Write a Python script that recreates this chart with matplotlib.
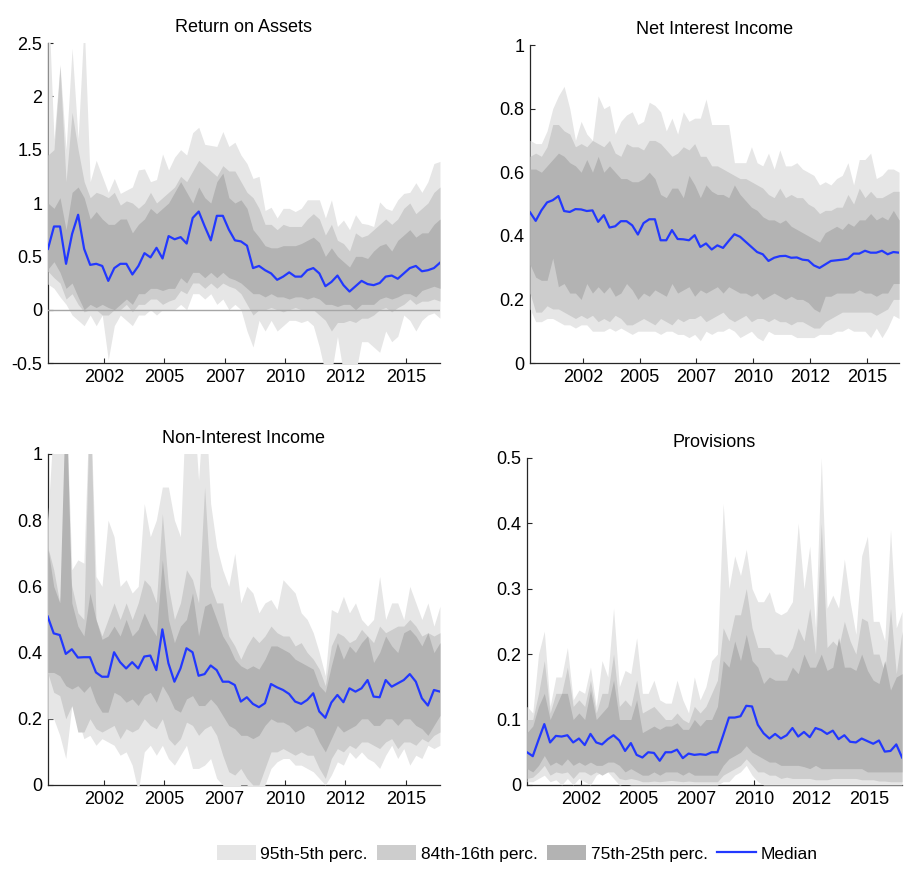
import numpy as np
import matplotlib
matplotlib.use("Agg")
import matplotlib.pyplot as plt
from matplotlib.patches import Patch
from matplotlib.lines import Line2D

plt.rcParams['font.family'] = ['Liberation Sans', 'DejaVu Sans']

# ---------------- data ----------------
first_year = 2000          # 2000Q1 ... 2016Q2, quarterly
n_quarters = 66
x_tick_values = [2002.5, 2005.0, 2007.5, 2010.0, 2012.5, 2015.0]
x_tick_labels = ["2002", "2005", "2007", "2010", "2012", "2015"]

titles = ["Return on Assets", "Net Interest Income", "Non-Interest Income", "Provisions"]
legend_labels = ["95th-5th perc.", "84th-16th perc.", "75th-25th perc.", "Median"]

# Return on Assets
roa_p95 = [3.0, 1.6, 2.3, 1.5, 2.45, 1.6, 2.7, 1.2, 1.4, 1.25,
           1.1, 1.23, 1.09, 1.12, 1.15, 1.31, 1.32, 1.2, 1.22, 1.46,
           1.31, 1.43, 1.5, 1.45, 1.66, 1.71, 1.55, 1.54, 1.53, 1.67,
           1.53, 1.57, 1.45, 1.37, 1.23, 1.25, 0.93, 0.96, 0.86, 0.95,
           0.95, 0.92, 0.95, 1.03, 1.03, 1.03, 0.86, 1.03, 0.78, 0.84,
           0.75, 0.89, 0.81, 0.8, 0.78, 1.01, 0.95, 0.93, 1.03, 1.09,
           1.1, 1.19, 1.1, 1.2, 1.37, 1.39]
roa_p84 = [1.45, 1.5, 2.28, 1.2, 1.85, 1.5, 1.2, 1.05, 1.1, 1.08,
           1.05, 1.1, 0.98, 1.02, 1.0, 0.95, 1.0, 1.1, 1.0, 1.05,
           1.1, 1.15, 1.25, 1.2, 1.3, 1.4, 1.35, 1.3, 1.25, 1.35,
           1.3, 1.3, 1.2, 1.1, 1.05, 0.95, 0.8, 0.8, 0.75, 0.8,
           0.78, 0.78, 0.78, 0.85, 0.9, 0.85, 0.7, 0.8, 0.65, 0.62,
           0.55, 0.72, 0.68, 0.7, 0.75, 0.8, 0.85, 0.8, 0.85, 0.95,
           1.0, 0.9, 0.95, 1.0, 1.1, 1.15]
roa_p75 = [1.0, 0.95, 1.05, 0.75, 1.1, 1.15, 1.05, 0.85, 0.92, 0.85,
           0.8, 0.8, 0.85, 0.85, 0.72, 0.8, 0.85, 0.95, 0.9, 0.95,
           1.0, 1.1, 1.2, 1.1, 1.0, 1.15, 1.05, 1.0, 1.2, 1.28,
           1.05, 1.0, 1.03, 0.95, 0.75, 0.68, 0.6, 0.58, 0.58, 0.6,
           0.6, 0.6, 0.62, 0.65, 0.68, 0.63, 0.5, 0.58, 0.5, 0.45,
           0.4, 0.5, 0.5, 0.48, 0.55, 0.6, 0.62, 0.55, 0.65, 0.7,
           0.75, 0.68, 0.72, 0.72, 0.8, 0.85]
roa_med = [0.57, 0.78, 0.78, 0.43, 0.71, 0.89, 0.57, 0.42, 0.43, 0.41,
           0.27, 0.39, 0.43, 0.43, 0.33, 0.41, 0.53, 0.49, 0.58, 0.48,
           0.69, 0.66, 0.68, 0.62, 0.86, 0.92, 0.78, 0.65, 0.88, 0.88,
           0.75, 0.65, 0.64, 0.60, 0.39, 0.41, 0.37, 0.34, 0.28, 0.31,
           0.35, 0.31, 0.31, 0.37, 0.39, 0.34, 0.22, 0.26, 0.32, 0.23,
           0.17, 0.22, 0.27, 0.24, 0.23, 0.25, 0.31, 0.32, 0.29, 0.34,
           0.39, 0.41, 0.36, 0.37, 0.39, 0.44]
roa_p25 = [0.38, 0.45, 0.35, 0.2, 0.25, 0.12, 0.0, 0.05, 0.02, 0.05,
           0.02, 0.0, 0.05, 0.1, 0.05, 0.15, 0.15, 0.2, 0.2, 0.18,
           0.2, 0.2, 0.3, 0.25, 0.35, 0.35, 0.3, 0.35, 0.3, 0.35,
           0.3, 0.28, 0.25, 0.2, 0.15, 0.15, 0.12, 0.15, 0.12, 0.12,
           0.1, 0.12, 0.12, 0.1, 0.12, 0.1, 0.05, 0.05, 0.03, 0.05,
           0.05, 0.0, 0.05, 0.05, 0.05, 0.1, 0.12, 0.1, 0.12, 0.15,
           0.15, 0.12, 0.18, 0.2, 0.22, 0.2]
roa_p16 = [0.36, 0.3, 0.25, 0.1, 0.15, 0.05, -0.02, 0.0, 0.0, -0.05,
           -0.05, 0.0, 0.0, 0.05, -0.02, 0.05, 0.05, 0.1, 0.1, 0.05,
           0.08, 0.1, 0.18, 0.15, 0.25, 0.25, 0.2, 0.25, 0.2, 0.25,
           0.22, 0.2, 0.15, 0.05, -0.05, 0.0, 0.0, 0.02, 0.0, -0.02,
           0.0, 0.02, 0.0, 0.0, 0.0, -0.05, -0.1, -0.2, -0.12, -0.12,
           -0.1, -0.12, -0.08, -0.08, -0.05, 0.0, 0.02, -0.02, 0.02, 0.05,
           0.1, 0.05, 0.08, 0.08, 0.1, 0.08]
roa_p05 = [0.24, 0.2, 0.12, 0.05, -0.05, -0.1, -0.15, -0.05, -0.15, -0.05,
           -0.47, -0.15, -0.05, -0.1, -0.15, -0.05, -0.05, 0.0, -0.05, 0.0,
           0.0, 0.0, 0.05, 0.0, 0.15, 0.15, 0.1, 0.15, 0.05, 0.1,
           0.0, 0.05, 0.0, -0.2, -0.35, -0.1, -0.2, -0.1, -0.2, -0.15,
           -0.1, -0.1, -0.12, -0.1, -0.15, -0.35, -0.6, -0.6, -0.25, -0.6,
           -0.6, -0.6, -0.3, -0.3, -0.35, -0.4, -0.2, -0.3, -0.25, -0.05,
           -0.1, -0.2, -0.1, -0.05, -0.03, -0.08]

# Net Interest Income
nii_p95 = [0.7, 0.69, 0.69, 0.73, 0.8, 0.84, 0.87, 0.8, 0.7, 0.76,
           0.72, 0.7, 0.84, 0.8, 0.81, 0.72, 0.76, 0.78, 0.79, 0.75,
           0.76, 0.82, 0.81, 0.79, 0.73, 0.77, 0.72, 0.79, 0.76, 0.77,
           0.77, 0.83, 0.75, 0.75, 0.75, 0.75, 0.63, 0.63, 0.63, 0.68,
           0.63, 0.62, 0.66, 0.61, 0.67, 0.62, 0.62, 0.63, 0.61, 0.6,
           0.59, 0.56, 0.57, 0.56, 0.58, 0.59, 0.63, 0.56, 0.64, 0.64,
           0.66, 0.58, 0.59, 0.61, 0.61, 0.6]
nii_p84 = [0.65, 0.66, 0.65, 0.68, 0.75, 0.75, 0.73, 0.72, 0.68, 0.69,
           0.68, 0.7, 0.69, 0.68, 0.7, 0.66, 0.65, 0.69, 0.68, 0.68,
           0.67, 0.7, 0.7, 0.69, 0.67, 0.65, 0.66, 0.68, 0.67, 0.69,
           0.65, 0.65, 0.62, 0.62, 0.61, 0.6, 0.59, 0.58, 0.58, 0.57,
           0.56, 0.55, 0.53, 0.52, 0.55, 0.52, 0.53, 0.52, 0.52, 0.5,
           0.49, 0.47, 0.48, 0.48, 0.49, 0.49, 0.53, 0.5, 0.55, 0.52,
           0.54, 0.52, 0.52, 0.53, 0.54, 0.54]
nii_p75 = [0.61, 0.61, 0.6, 0.62, 0.64, 0.66, 0.65, 0.63, 0.62, 0.6,
           0.64, 0.6, 0.65, 0.6, 0.62, 0.6, 0.58, 0.58, 0.57, 0.57,
           0.58, 0.6, 0.58, 0.53, 0.52, 0.55, 0.55, 0.52, 0.59, 0.56,
           0.52, 0.56, 0.54, 0.53, 0.53, 0.52, 0.56, 0.53, 0.51, 0.49,
           0.48, 0.46, 0.45, 0.45, 0.44, 0.45, 0.43, 0.42, 0.41, 0.4,
           0.39, 0.38, 0.41, 0.42, 0.43, 0.42, 0.44, 0.43, 0.45, 0.45,
           0.47, 0.45, 0.46, 0.45, 0.48, 0.45]
nii_med = [0.474, 0.447, 0.48, 0.505, 0.512, 0.525, 0.478, 0.475, 0.484, 0.483,
           0.478, 0.48, 0.444, 0.465, 0.426, 0.43, 0.446, 0.446, 0.433, 0.404,
           0.44, 0.452, 0.452, 0.386, 0.386, 0.418, 0.39, 0.389, 0.386, 0.402,
           0.365, 0.376, 0.357, 0.37, 0.362, 0.384, 0.405, 0.397, 0.381, 0.365,
           0.349, 0.342, 0.321, 0.331, 0.336, 0.337, 0.331, 0.332, 0.325, 0.323,
           0.307, 0.299, 0.31, 0.321, 0.323, 0.325, 0.328, 0.344, 0.344, 0.353,
           0.347, 0.347, 0.353, 0.342, 0.349, 0.347]
nii_p25 = [0.31, 0.27, 0.26, 0.26, 0.33, 0.24, 0.25, 0.22, 0.22, 0.2,
           0.25, 0.22, 0.24, 0.22, 0.24, 0.21, 0.22, 0.25, 0.23, 0.2,
           0.22, 0.21, 0.23, 0.22, 0.21, 0.25, 0.22, 0.23, 0.24, 0.21,
           0.23, 0.22, 0.23, 0.24, 0.22, 0.24, 0.23, 0.22, 0.22, 0.21,
           0.22, 0.2, 0.21, 0.22, 0.21, 0.2, 0.21, 0.2, 0.2, 0.19,
           0.17, 0.16, 0.21, 0.21, 0.22, 0.22, 0.22, 0.22, 0.23, 0.22,
           0.22, 0.21, 0.22, 0.22, 0.25, 0.25]
nii_p16 = [0.22, 0.16, 0.16, 0.18, 0.17, 0.17, 0.16, 0.15, 0.14, 0.15,
           0.14, 0.15, 0.13, 0.14, 0.13, 0.15, 0.14, 0.12, 0.12, 0.13,
           0.14, 0.13, 0.12, 0.14, 0.13, 0.12, 0.14, 0.13, 0.14, 0.14,
           0.15, 0.13, 0.14, 0.15, 0.16, 0.14, 0.13, 0.14, 0.15, 0.13,
           0.14, 0.14, 0.13, 0.14, 0.13, 0.13, 0.12, 0.13, 0.13, 0.12,
           0.11, 0.11, 0.13, 0.14, 0.15, 0.16, 0.16, 0.16, 0.16, 0.16,
           0.16, 0.15, 0.16, 0.17, 0.2, 0.2]
nii_p05 = [0.17, 0.13, 0.13, 0.14, 0.14, 0.13, 0.12, 0.12, 0.11, 0.12,
           0.12, 0.1, 0.1, 0.1, 0.11, 0.1, 0.11, 0.1, 0.09, 0.1,
           0.1, 0.1, 0.1, 0.09, 0.1, 0.1, 0.09, 0.09, 0.08, 0.09,
           0.07, 0.1, 0.09, 0.1, 0.1, 0.11, 0.1, 0.08, 0.09, 0.1,
           0.08, 0.07, 0.1, 0.09, 0.09, 0.09, 0.09, 0.08, 0.08, 0.08,
           0.08, 0.09, 0.09, 0.09, 0.1, 0.1, 0.11, 0.1, 0.1, 0.1,
           0.08, 0.11, 0.08, 0.11, 0.15, 0.14]

# Non-Interest Income
nonii_p95 = [0.8, 1.1, 1.1, 1.2, 0.65, 0.68, 0.67, 1.2, 0.63, 0.6,
             0.8, 0.75, 0.6, 0.62, 0.58, 0.6, 0.85, 0.75, 0.8, 0.9,
             0.9, 0.8, 0.75, 1.2, 1.2, 0.92, 1.2, 0.85, 0.72, 0.65,
             0.6, 0.7, 0.55, 0.6, 0.58, 0.52, 0.55, 0.56, 0.53, 0.62,
             0.6, 0.58, 0.52, 0.5, 0.46, 0.4, 0.33, 0.53, 0.52, 0.57,
             0.52, 0.55, 0.5, 0.48, 0.5, 0.63, 0.5, 0.55, 0.55, 0.5,
             0.6, 0.55, 0.5, 0.55, 0.48, 0.54]
nonii_p84 = [0.72, 0.65, 0.55, 0.72, 0.6, 0.52, 0.5, 1.2, 0.5, 0.45,
             0.5, 0.55, 0.5, 0.55, 0.5, 0.55, 0.62, 0.6, 0.55, 0.82,
             0.6, 0.5, 0.55, 0.65, 0.62, 0.55, 0.9, 0.6, 0.55, 0.55,
             0.45, 0.42, 0.38, 0.42, 0.45, 0.43, 0.45, 0.48, 0.46, 0.45,
             0.45, 0.42, 0.43, 0.4, 0.38, 0.35, 0.3, 0.42, 0.46, 0.45,
             0.43, 0.44, 0.47, 0.45, 0.43, 0.48, 0.46, 0.47, 0.48, 0.48,
             0.5, 0.48, 0.45, 0.46, 0.45, 0.46]
nonii_p75 = [0.72, 0.6, 0.55, 1.2, 0.55, 0.48, 0.45, 0.58, 0.5, 0.44,
             0.45, 0.48, 0.45, 0.5, 0.45, 0.47, 0.52, 0.48, 0.45, 0.68,
             0.5, 0.43, 0.48, 0.5, 0.58, 0.45, 0.54, 0.55, 0.5, 0.45,
             0.42, 0.38, 0.36, 0.35, 0.36, 0.35, 0.38, 0.42, 0.42, 0.41,
             0.4, 0.38, 0.37, 0.36, 0.35, 0.3, 0.28, 0.36, 0.43, 0.38,
             0.42, 0.4, 0.43, 0.45, 0.37, 0.4, 0.45, 0.42, 0.4, 0.46,
             0.47, 0.45, 0.42, 0.46, 0.4, 0.43]
nonii_med = [0.509, 0.458, 0.453, 0.396, 0.41, 0.385, 0.386, 0.386, 0.34, 0.327,
             0.327, 0.401, 0.371, 0.352, 0.371, 0.352, 0.388, 0.391, 0.347, 0.47,
             0.368, 0.312, 0.352, 0.413, 0.401, 0.33, 0.335, 0.361, 0.347, 0.312,
             0.312, 0.302, 0.252, 0.265, 0.245, 0.235, 0.247, 0.305, 0.295, 0.287,
             0.275, 0.252, 0.245, 0.257, 0.277, 0.222, 0.203, 0.249, 0.272, 0.25,
             0.292, 0.282, 0.292, 0.317, 0.267, 0.265, 0.317, 0.297, 0.307, 0.317,
             0.335, 0.312, 0.262, 0.24, 0.287, 0.282]
nonii_p25 = [0.34, 0.34, 0.33, 0.3, 0.29, 0.3, 0.28, 0.3, 0.25, 0.22,
             0.22, 0.28, 0.27, 0.25, 0.26, 0.24, 0.27, 0.28, 0.25, 0.3,
             0.27, 0.23, 0.22, 0.26, 0.27, 0.24, 0.24, 0.26, 0.24, 0.21,
             0.18, 0.17, 0.15, 0.15, 0.14, 0.15, 0.18, 0.2, 0.19, 0.19,
             0.18, 0.16, 0.17, 0.18, 0.17, 0.13, 0.1, 0.14, 0.18, 0.16,
             0.17, 0.18, 0.2, 0.2, 0.18, 0.18, 0.2, 0.2, 0.18, 0.2,
             0.2, 0.18, 0.17, 0.15, 0.18, 0.21]
nonii_p16 = [0.34, 0.28, 0.27, 0.2, 0.24, 0.16, 0.16, 0.2, 0.17, 0.16,
             0.17, 0.18, 0.14, 0.17, 0.16, 0.17, 0.2, 0.18, 0.17, 0.2,
             0.14, 0.12, 0.14, 0.19, 0.18, 0.15, 0.17, 0.18, 0.15, 0.09,
             0.04, 0.03, 0.05, 0.02, 0.0, 0.0, 0.05, 0.1, 0.1, 0.11,
             0.1, 0.09, 0.1, 0.09, 0.09, 0.05, 0.02, 0.08, 0.11, 0.1,
             0.12, 0.11, 0.13, 0.13, 0.12, 0.11, 0.13, 0.14, 0.11, 0.13,
             0.13, 0.12, 0.14, 0.13, 0.15, 0.16]
nonii_p05 = [0.2, 0.2, 0.15, 0.08, 0.24, 0.2, 0.14, 0.15, 0.12, 0.14,
             0.13, 0.12, 0.09, 0.1, 0.06, -0.02, 0.1, 0.12, 0.09, 0.12,
             0.08, 0.06, 0.09, 0.12, 0.05, 0.05, 0.06, 0.08, 0.02, 0.0,
             -0.05, -0.02, 0.0, 0.0, -0.02, -0.05, 0.0, 0.05, 0.07, 0.08,
             0.08, 0.06, 0.06, 0.05, 0.04, 0.02, 0.0, 0.03, 0.07, 0.06,
             0.1, 0.08, 0.1, 0.08, 0.07, 0.05, 0.09, 0.12, 0.08, 0.11,
             0.06, 0.09, 0.08, 0.12, 0.11, 0.12]

# Provisions
prov_p95 = [0.12, 0.11, 0.2, 0.235, 0.12, 0.165, 0.165, 0.21, 0.13, 0.145,
            0.14, 0.18, 0.12, 0.19, 0.165, 0.27, 0.15, 0.175, 0.17, 0.225,
            0.14, 0.14, 0.16, 0.13, 0.125, 0.125, 0.16, 0.13, 0.11, 0.165,
            0.13, 0.15, 0.19, 0.2, 0.43, 0.3, 0.35, 0.32, 0.36, 0.3,
            0.28, 0.28, 0.295, 0.265, 0.26, 0.265, 0.28, 0.4, 0.3, 0.365,
            0.24, 0.5, 0.27, 0.29, 0.27, 0.345, 0.28, 0.23, 0.35, 0.38,
            0.25, 0.25, 0.22, 0.39, 0.24, 0.265]
prov_p84 = [0.1, 0.1, 0.14, 0.19, 0.11, 0.14, 0.14, 0.18, 0.12, 0.13,
            0.12, 0.16, 0.11, 0.14, 0.14, 0.2, 0.12, 0.13, 0.12, 0.16,
            0.11, 0.115, 0.12, 0.11, 0.1, 0.1, 0.11, 0.1, 0.095, 0.12,
            0.11, 0.12, 0.14, 0.16, 0.24, 0.22, 0.26, 0.26, 0.3, 0.24,
            0.21, 0.21, 0.21, 0.2, 0.2, 0.195, 0.21, 0.24, 0.22, 0.27,
            0.2, 0.4, 0.21, 0.22, 0.21, 0.25, 0.22, 0.2, 0.255, 0.25,
            0.2, 0.2, 0.17, 0.27, 0.17, 0.235]
prov_p75 = [0.08, 0.09, 0.12, 0.14, 0.1, 0.12, 0.14, 0.14, 0.1, 0.11,
            0.1, 0.145, 0.1, 0.11, 0.12, 0.16, 0.1, 0.1, 0.1, 0.13,
            0.08, 0.085, 0.09, 0.085, 0.09, 0.09, 0.095, 0.085, 0.085, 0.1,
            0.09, 0.1, 0.1, 0.12, 0.19, 0.18, 0.22, 0.19, 0.23, 0.19,
            0.18, 0.155, 0.165, 0.16, 0.16, 0.16, 0.18, 0.17, 0.2, 0.18,
            0.18, 0.2, 0.175, 0.18, 0.225, 0.18, 0.18, 0.175, 0.2, 0.175,
            0.16, 0.155, 0.19, 0.145, 0.165, 0.17]
prov_med = [0.05, 0.044, 0.069, 0.093, 0.065, 0.075, 0.074, 0.076, 0.065, 0.071,
            0.061, 0.078, 0.065, 0.062, 0.07, 0.076, 0.068, 0.052, 0.064, 0.046,
            0.042, 0.05, 0.049, 0.037, 0.05, 0.05, 0.054, 0.041, 0.048, 0.046,
            0.047, 0.046, 0.05, 0.05, 0.076, 0.103, 0.103, 0.105, 0.121, 0.12,
            0.092, 0.079, 0.071, 0.078, 0.071, 0.076, 0.087, 0.074, 0.081, 0.073,
            0.087, 0.084, 0.078, 0.083, 0.07, 0.076, 0.066, 0.065, 0.071, 0.067,
            0.063, 0.068, 0.051, 0.052, 0.062, 0.042]
prov_p25 = [0.025, 0.02, 0.03, 0.045, 0.03, 0.035, 0.03, 0.04, 0.03, 0.035,
            0.03, 0.035, 0.03, 0.03, 0.035, 0.035, 0.03, 0.02, 0.025, 0.02,
            0.015, 0.015, 0.02, 0.015, 0.02, 0.02, 0.02, 0.015, 0.02, 0.015,
            0.015, 0.015, 0.015, 0.015, 0.03, 0.04, 0.045, 0.05, 0.06, 0.05,
            0.045, 0.04, 0.035, 0.035, 0.03, 0.03, 0.03, 0.03, 0.028, 0.025,
            0.03, 0.025, 0.025, 0.025, 0.025, 0.025, 0.025, 0.025, 0.025, 0.02,
            0.02, 0.02, 0.02, 0.02, 0.02, 0.02]
prov_p16 = [0.01, 0.012, 0.02, 0.03, 0.015, 0.02, 0.018, 0.02, 0.01, 0.02,
            0.02, 0.015, 0.02, 0.015, 0.02, 0.02, 0.01, 0.008, 0.01, 0.008,
            0.005, 0.005, 0.006, 0.005, 0.006, 0.007, 0.006, 0.005, 0.006, 0.005,
            0.005, 0.005, 0.005, 0.005, 0.015, 0.02, 0.025, 0.03, 0.04, 0.03,
            0.02, 0.02, 0.015, 0.015, 0.01, 0.012, 0.01, 0.01, 0.01, 0.01,
            0.008, 0.008, 0.008, 0.01, 0.01, 0.01, 0.01, 0.01, 0.008, 0.008,
            0.008, 0.006, 0.006, 0.005, 0.005, 0.005]
prov_p05 = [0.005, 0.005, 0.01, 0.015, 0.005, 0.008, 0.0, 0.01, 0.0, 0.01,
            0.005, 0.0, 0.015, 0.02, 0.02, 0.01, 0.0, 0.002, 0.0, 0.0,
            0.0, 0.0, 0.0, 0.0, 0.0, 0.0, 0.0, 0.0, 0.0, 0.0,
            0.0, 0.0, 0.0, 0.0, 0.005, 0.005, 0.015, 0.02, 0.03, 0.015,
            0.005, 0.0, 0.0, 0.0, 0.0, 0.0, 0.0, 0.0, 0.0, 0.0,
            0.0, 0.0, 0.0, 0.0, 0.0, 0.0, 0.0, 0.0, 0.0, 0.0,
            0.0, 0.0, 0.0, 0.0, 0.0, 0.0]

roa_yticks = ["-0.5", "0", "0.5", "1", "1.5", "2", "2.5"]
nii_yticks = ["0", "0.2", "0.4", "0.6", "0.8", "1"]
nonii_yticks = ["0", "0.2", "0.4", "0.6", "0.8", "1"]
prov_yticks = ["0", "0.1", "0.2", "0.3", "0.4", "0.5"]

# ---------------- style ----------------
c95 = "#e6e6e6"
c84 = "#cdcdcd"
c75 = "#b3b3b3"
c_med = "#2238ff"

x = first_year + np.arange(n_quarters) * 0.25 + 0.17

fig = plt.figure(figsize=(9.17, 8.76), dpi=100)

positions = [
    [0.0523, 0.5856, 0.4275, 0.3653],
    [0.5780, 0.5856, 0.4024, 0.3630],
    [0.0520, 0.1039, 0.4278, 0.3779],
    [0.5747, 0.1039, 0.4090, 0.3736],
]

panels = [
    (roa_p95, roa_p84, roa_p75, roa_med, roa_p25, roa_p16, roa_p05, roa_yticks, True),
    (nii_p95, nii_p84, nii_p75, nii_med, nii_p25, nii_p16, nii_p05, nii_yticks, False),
    (nonii_p95, nonii_p84, nonii_p75, nonii_med, nonii_p25, nonii_p16, nonii_p05, nonii_yticks, False),
    (prov_p95, prov_p84, prov_p75, prov_med, prov_p25, prov_p16, prov_p05, prov_yticks, False),
]

for pos, title, pdata in zip(positions, titles, panels):
    p95, p84, p75, med, p25, p16, p05, ylabels, zero_line = pdata
    ax = fig.add_axes(pos)
    ax.fill_between(x, p05, p95, color=c95, linewidth=0, zorder=2)
    ax.fill_between(x, p16, p84, color=c84, linewidth=0, zorder=3)
    ax.fill_between(x, p25, p75, color=c75, linewidth=0, zorder=4)
    if zero_line:
        ax.axhline(0, color="#a6a6a6", linewidth=1.0, zorder=5)
    ax.plot(x, med, color=c_med, linewidth=1.6, zorder=6)

    yvals = [float(v) for v in ylabels]
    ax.set_ylim(yvals[0], yvals[-1])
    ax.set_yticks(yvals)
    ax.set_yticklabels(ylabels)
    ax.set_xlim(x[0], x[-1])
    ax.set_xticks(x_tick_values)
    ax.set_xticklabels(x_tick_labels)

    for s in ["top", "right"]:
        ax.spines[s].set_visible(False)
    for s in ["left", "bottom"]:
        ax.spines[s].set_color("#262626")
        ax.spines[s].set_linewidth(0.9)
        ax.spines[s].set_zorder(1)
    ax.tick_params(axis="both", direction="in", length=3.5, width=0.8,
                   colors="#262626", labelcolor="black", labelsize=13, pad=4)
    ax.set_title(title, fontsize=13, pad=8)
    ax.patch.set_alpha(0)

handles = [
    Patch(facecolor=c95, edgecolor="none"),
    Patch(facecolor=c84, edgecolor="none"),
    Patch(facecolor=c75, edgecolor="none"),
    Line2D([0], [0], color=c_med, linewidth=1.6),
]
fig.legend(handles, legend_labels, loc="center", bbox_to_anchor=(0.564, 0.026),
           ncol=4, frameon=False, fontsize=12.5, handlelength=2.25,
           handleheight=1.0, handletextpad=0.25, columnspacing=0.55,
           borderpad=0.2)

fig.savefig("out.png", dpi=100, facecolor="white")
